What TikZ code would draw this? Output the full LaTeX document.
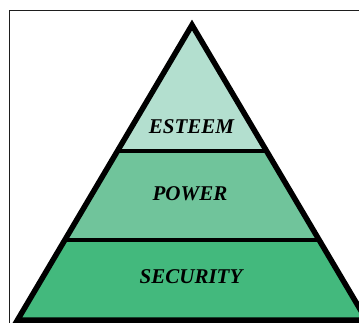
\documentclass[tikz,border=0pt]{standalone}
\usepackage{fontspec}
\setmainfont{Liberation Serif}
\usetikzlibrary{calc}
\definecolor{tierA}{RGB}{179,223,207}
\definecolor{tierB}{RGB}{112,196,155}
\definecolor{tierC}{RGB}{67,185,125}
\definecolor{framec}{RGB}{30,30,30}
\begin{document}
\begin{tikzpicture}[x=1pt,y=-1pt,
  tierlabel/.style={font=\bfseries\itshape\fontsize{21}{21}\selectfont, inner sep=0pt, text=black},
  outline/.style={line width=5.5pt, line join=miter, draw=black},
  divider/.style={line width=4.5pt, draw=black}]
\useasboundingbox (0,0) rectangle (359,322);
\clip (0,0) rectangle (359,322);
\fill[white] (0,0) rectangle (359,322);
\draw[line width=1pt, framec] (9.5,340) -- (9.5,10.5) -- (380,10.5);
\coordinate (A) at (192,25);
\coordinate (BL) at (17.5,320);
\coordinate (BR) at (366.5,320);
\coordinate (L1) at ($(A)!0.4271!(BL)$);
\coordinate (R1) at ($(A)!0.4271!(BR)$);
\coordinate (L2) at ($(A)!0.7288!(BL)$);
\coordinate (R2) at ($(A)!0.7288!(BR)$);
\fill[tierA] (A) -- (L1) -- (R1) -- cycle;
\fill[tierB] (L1) -- (L2) -- (R2) -- (R1) -- cycle;
\fill[tierC] (L2) -- (BL) -- (BR) -- (R2) -- cycle;
\draw[divider] (L1) -- (R1);
\draw[divider] (L2) -- (R2);
\draw[outline] (A) -- (BL) -- (BR) -- cycle;
\node[tierlabel] (esteem) at (191.5,127) {ESTEEM};
\node[tierlabel] (power) at (190,194) {POWER};
\node[tierlabel] (security) at (191,277) {SECURITY};
\end{tikzpicture}
\end{document}
